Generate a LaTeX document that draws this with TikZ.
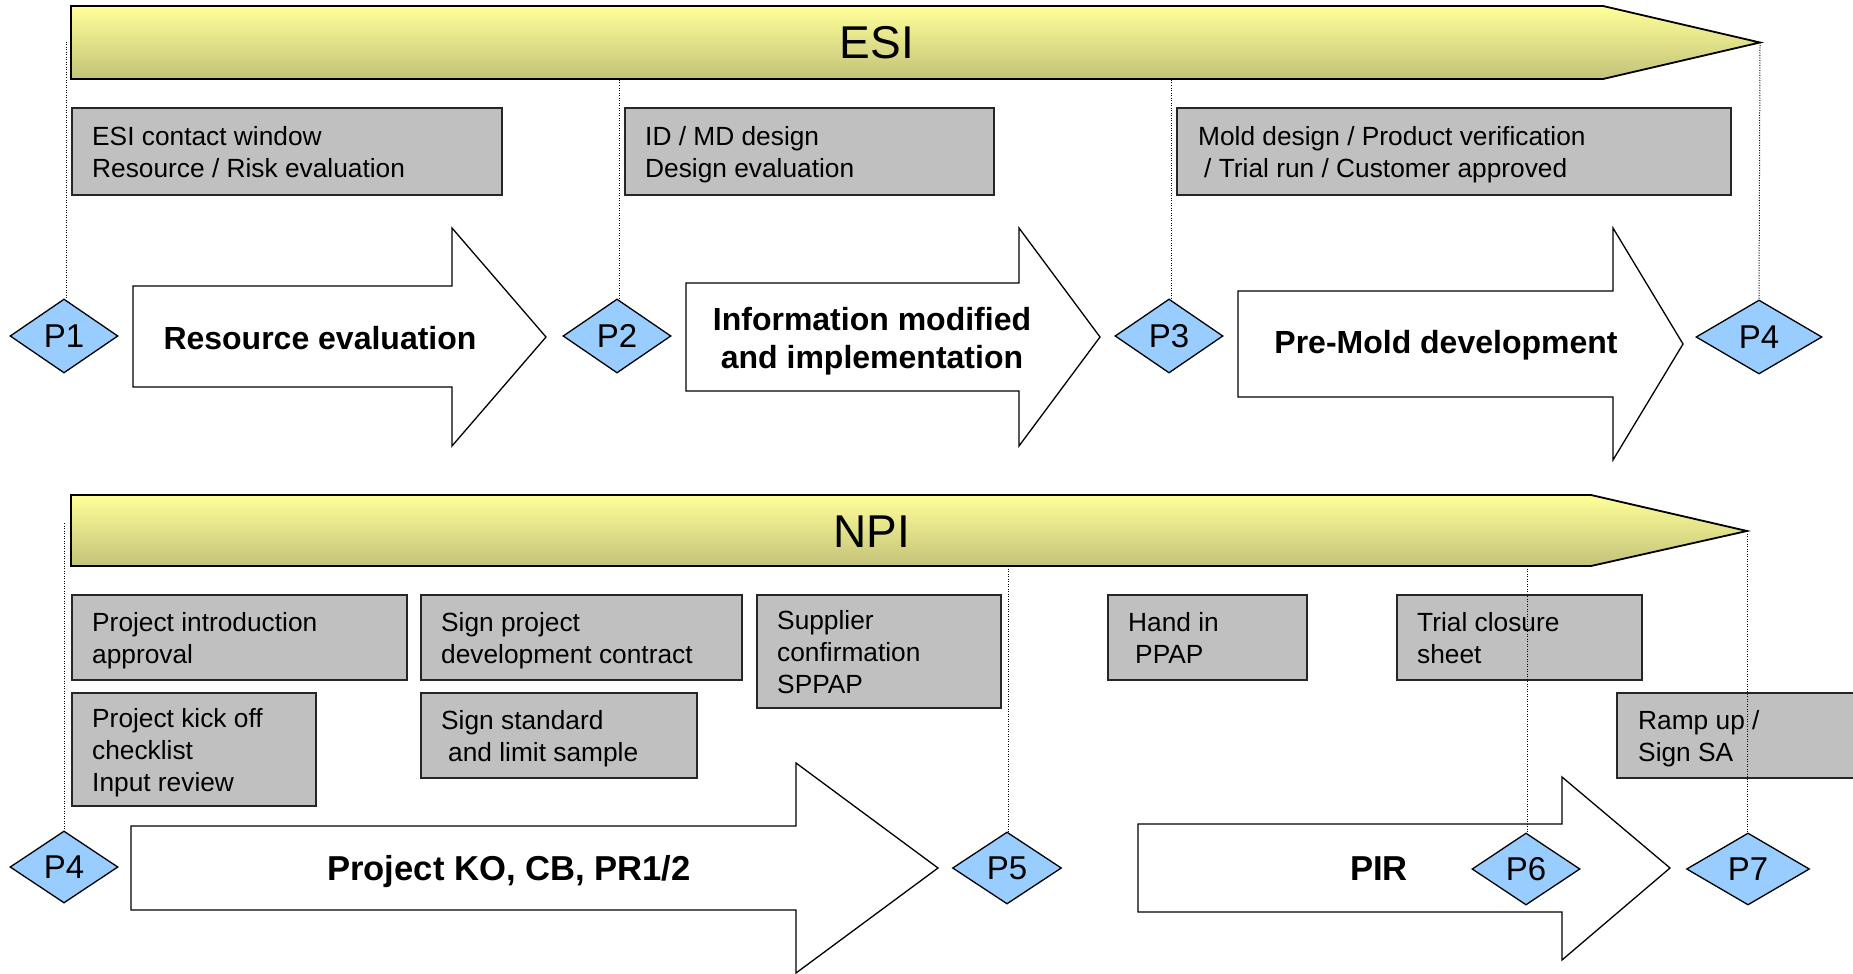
\documentclass[tikz,border=0pt]{standalone}
\usepackage{fontspec}
\setmainfont{Liberation Sans}
\usetikzlibrary{shapes.geometric}
\definecolor{boxgray}{RGB}{192,192,192}
\definecolor{pblue}{RGB}{153,204,255}
\definecolor{bartop}{RGB}{255,255,153}
\definecolor{barbot}{RGB}{195,194,122}
\newcommand{\mystrut}{\strut}
\begin{document}
\begin{tikzpicture}[x=1pt,y=-1pt,
  bar/.style={draw=black, line width=1.8pt, top color=bartop, bottom color=barbot, line join=miter},
  bartext/.style={font=\fontsize{46}{46}\selectfont, inner sep=0pt},
  gbox/.style={draw=black!85, line width=1.6pt, fill=boxgray, anchor=north west, inner sep=0pt},
  btxt/.style={font=\fontsize{26.3}{32}\selectfont, align=left, inner sep=0pt, anchor=west},
  barrow/.style={draw=black, line width=1.3pt, fill=white, line join=miter},
  atxt/.style={font=\bfseries\fontsize{32}{38}\selectfont, align=center, inner sep=0pt},
  btxtbig/.style={font=\bfseries\fontsize{34.6}{38}\selectfont, align=center, inner sep=0pt},
  pdia/.style={diamond, draw=black, line width=1.3pt, fill=pblue, inner sep=0pt, aspect=1.45,
    minimum width=108pt, minimum height=74pt, font=\fontsize{33}{33}\selectfont},
  dotline/.style={draw=black, line width=1pt, dash pattern=on 1pt off 1.5pt}
]
\fill[white] (0,0) rectangle (1853,974);
\useasboundingbox (0,0) rectangle (1853,974);

% ---------- ESI bar ----------
\shadedraw[bar] (71,6) -- (1603,6) -- (1760,42.5) -- (1603,79) -- (71,79) -- cycle;
\coordinate (esitip) at (1760,42.5);
\node[bartext] (esi) at (877,43) {ESI};

% ---------- ESI boxes ----------
\node[gbox, minimum width=430pt, minimum height=87pt] (b1) at (71,107) {};
\node[btxt] (t1) at ([xshift=21pt,yshift=-4pt]b1.west) {\mystrut ESI contact window\\\mystrut Resource / Risk evaluation};
\node[gbox, minimum width=369pt, minimum height=87pt] (b2) at (624,107) {};
\node[btxt] (t2) at ([xshift=21pt,yshift=-4pt]b2.west) {\mystrut ID / MD design\\\mystrut Design evaluation};
\node[gbox, minimum width=554pt, minimum height=87pt] (b3) at (1176,107) {};
\node[btxt] (t3) at ([xshift=22pt,yshift=-4pt]b3.west) {\mystrut Mold design / Product verification\\\mystrut\hspace*{6pt}/ Trial run / Customer approved};

% ---------- ESI arrows ----------
\draw[barrow] (133,286) -- (452,286) -- (452,228) -- (546,337) -- (452,446) -- (452,387) -- (133,387) -- cycle;
\node[atxt] (a1) at (320,338) {Resource evaluation};
\draw[barrow] (686,283) -- (1019,283) -- (1019,228) -- (1100,337) -- (1019,446) -- (1019,391) -- (686,391) -- cycle;
\node[atxt] (a2) at (872,341) {Information modified\\and implementation};
\draw[barrow] (1238,291) -- (1613,291) -- (1613,228) -- (1683,344) -- (1613,460) -- (1613,397) -- (1238,397) -- cycle;
\node[atxt] (a3) at (1446,345) {Pre-Mold development};

% ---------- ESI milestones ----------
\node[pdia] (p1) at (64,336) {P1};
\node[pdia] (p2) at (617,336) {P2};
\node[pdia] (p3) at (1169,336) {P3};
\node[pdia, minimum width=126pt] (p4a) at (1759,337) {P4};
\coordinate (d1) at (66,42);
\coordinate (d2) at (619,80);
\coordinate (d3) at (1171,80);
\draw[dotline] (d1) -- (d1 |- p1.north);
\draw[dotline] (d2) -- (d2 |- p2.north);
\draw[dotline] (d3) -- (d3 |- p3.north);
\draw[dotline] (esitip) -- (p4a.north);

% ---------- NPI bar ----------
\shadedraw[bar] (71,495) -- (1591,495) -- (1747,531) -- (1591,566) -- (71,566) -- cycle;
\coordinate (npitip) at (1747,531);
\node[bartext] (npi) at (872,532) {NPI};

% ---------- NPI boxes ----------
\node[gbox, minimum width=335pt, minimum height=85pt] (b4) at (71,594) {};
\node[btxt] (t4) at ([xshift=21pt,yshift=-4pt]b4.west) {\mystrut Project introduction\\\mystrut approval};
\node[gbox, minimum width=244pt, minimum height=113pt] (b5) at (71,692) {};
\node[btxt] (t5) at ([xshift=21pt,yshift=-4pt]b5.west) {\mystrut Project kick off\\\mystrut checklist\\\mystrut Input review};
\node[gbox, minimum width=321pt, minimum height=85pt] (b6) at (420,594) {};
\node[btxt] (t6) at ([xshift=21pt,yshift=-4pt]b6.west) {\mystrut Sign project\\\mystrut development contract};
\node[gbox, minimum width=276pt, minimum height=85pt] (b7) at (420,692) {};
\node[btxt] (t7) at ([xshift=21pt,yshift=-4pt]b7.west) {\mystrut Sign standard\\\mystrut\hspace*{7pt}and limit sample};
\node[gbox, minimum width=244pt, minimum height=113pt] (b8) at (756,594) {};
\node[btxt] (t8) at ([xshift=21pt,yshift=-4pt]b8.west) {\mystrut Supplier\\\mystrut confirmation\\\mystrut SPPAP};
\node[gbox, minimum width=199pt, minimum height=85pt] (b9) at (1107,594) {};
\node[btxt] (t9) at ([xshift=21pt,yshift=-4pt]b9.west) {\mystrut Hand in\\\mystrut\hspace*{7pt}PPAP};
\node[gbox, minimum width=245pt, minimum height=85pt] (b10) at (1396,594) {};
\node[btxt] (t10) at ([xshift=21pt,yshift=-4pt]b10.west) {\mystrut Trial closure\\\mystrut sheet};
\node[gbox, minimum width=242pt, minimum height=85pt] (b11) at (1616,692) {};
\node[btxt] (t11) at ([xshift=22pt,yshift=-4pt]b11.west) {\mystrut Ramp up /\\\mystrut Sign SA};

% ---------- NPI arrows ----------
\draw[barrow] (131,826) -- (796,826) -- (796,763) -- (938,868) -- (796,973) -- (796,910) -- (131,910) -- cycle;
\node[btxtbig, anchor=base] (a4) at (509,880) {Project KO, CB, PR1/2};
\draw[barrow] (1138,824) -- (1562,824) -- (1562,777) -- (1670,868) -- (1562,960) -- (1562,912) -- (1138,912) -- cycle;
\node[btxtbig, anchor=base] (a5) at (1379,880) {PIR};

% ---------- NPI milestones ----------
\coordinate (d4) at (64,523);
\coordinate (d5) at (1008,566);
\coordinate (d6) at (1527,566);
\draw[dotline] (d4) -- (d4 |- 0,832);
\draw[dotline] (d5) -- (d5 |- 0,832);
\draw[dotline] (d6) -- (d6 |- 0,834);
\draw[dotline] (npitip) -- (1747,834);
\node[pdia, minimum height=72pt] (p4b) at (64,867) {P4};
\node[pdia, minimum width=109pt, minimum height=72pt] (p5) at (1007,868) {P5};
\node[pdia, minimum height=72pt] (p6) at (1526,869) {P6};
\node[pdia, minimum width=123pt, minimum height=72pt] (p7) at (1748,869) {P7};
\end{tikzpicture}
\end{document}
